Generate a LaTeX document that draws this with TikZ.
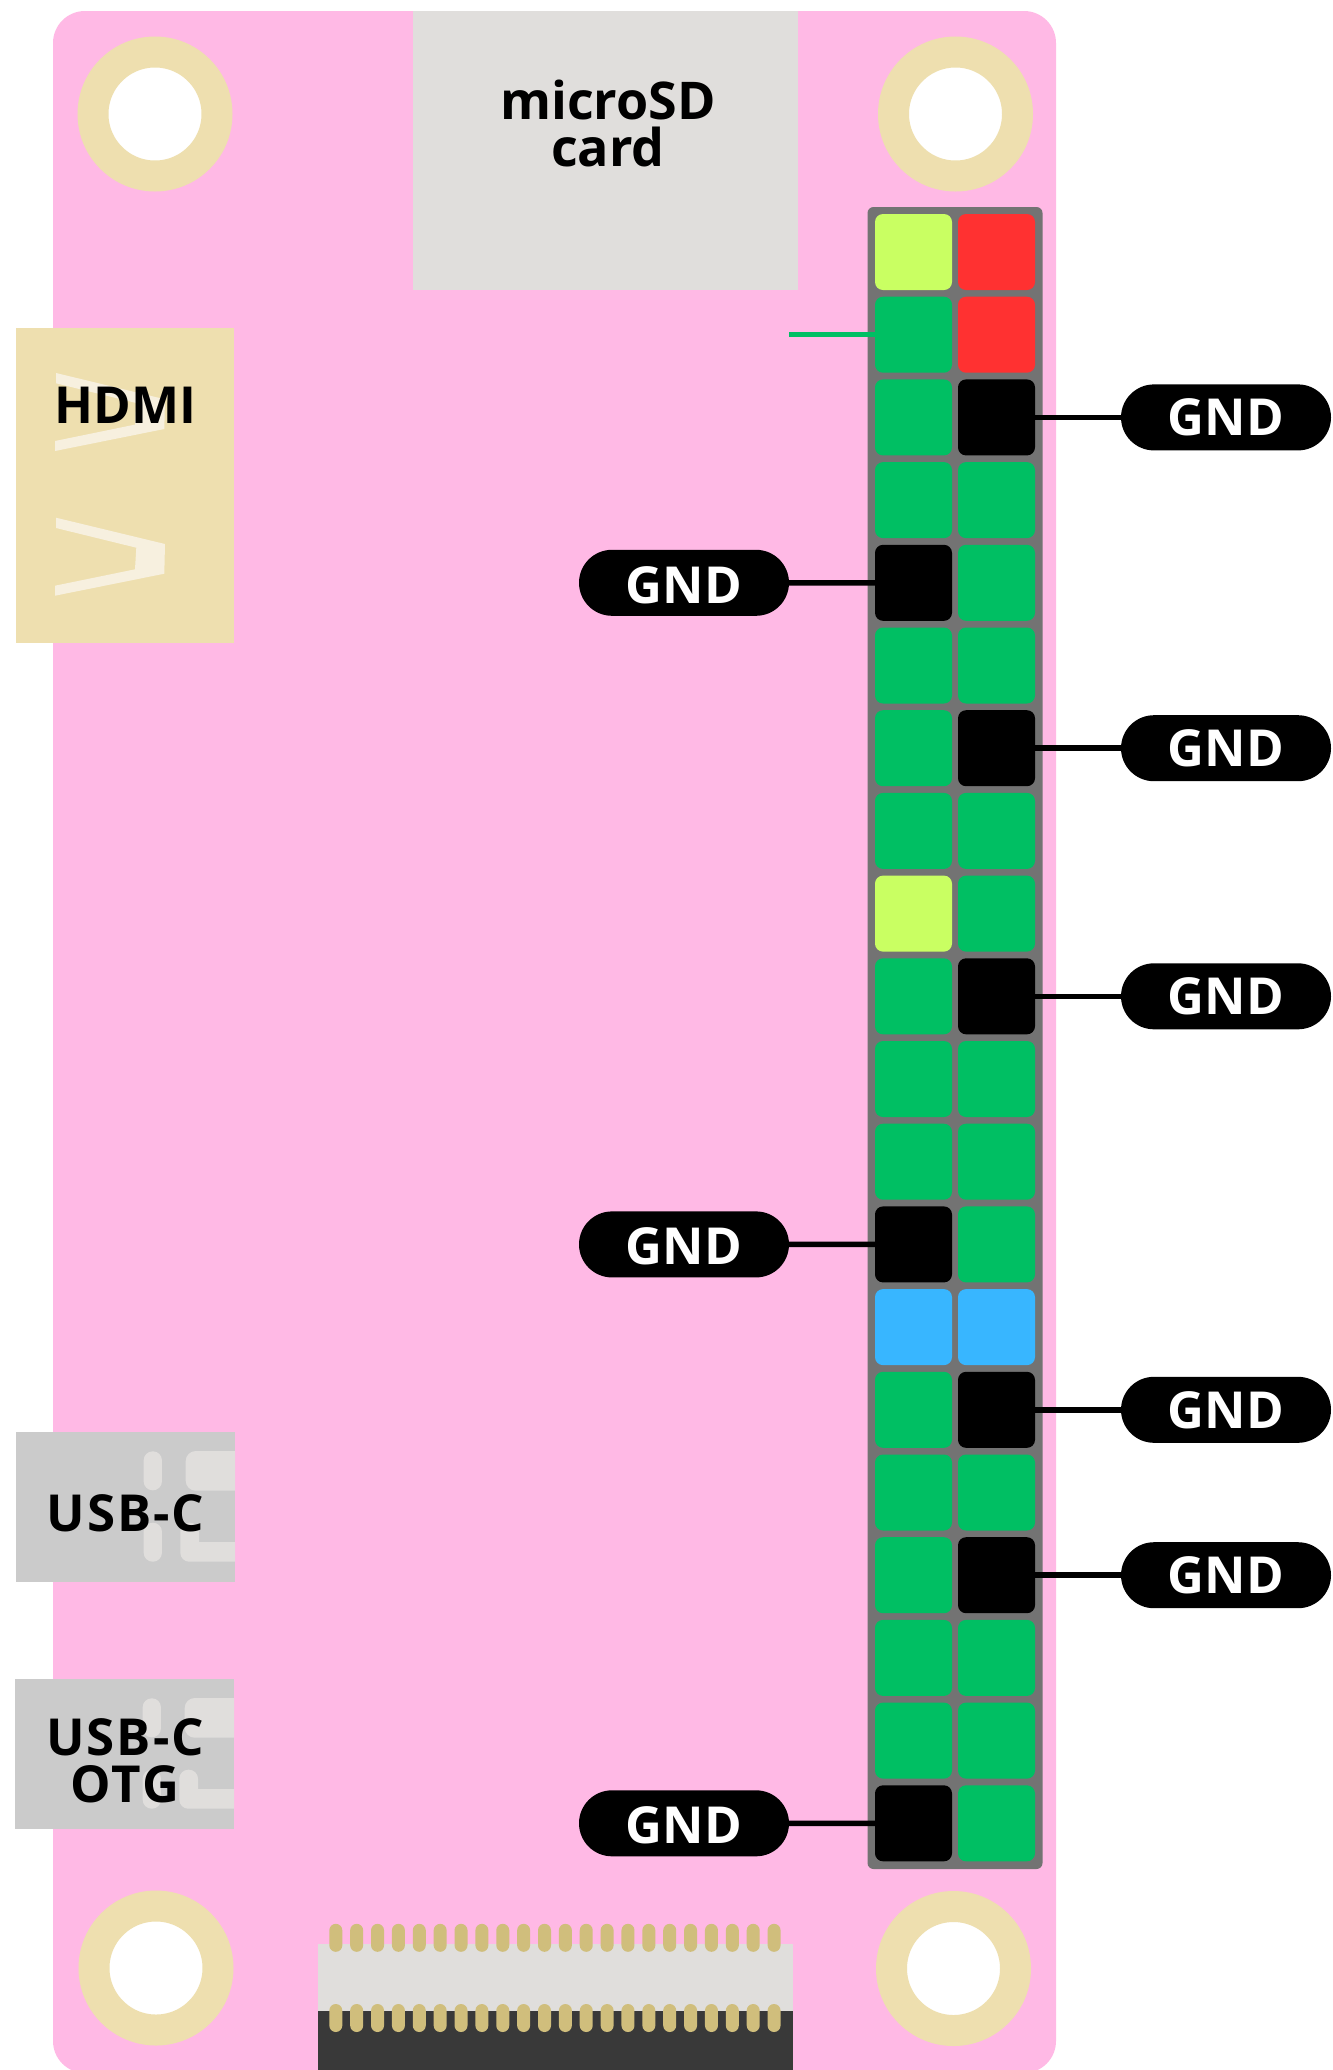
\documentclass[tikz,border=0pt]{standalone}
\usepackage{fontspec}
\setmainfont{Open Sans}
\newfontfamily\usbfont[LetterSpace=4]{Open Sans}
\usepackage{xcolor}
\usetikzlibrary{positioning, shapes.misc}
\definecolor{boardpink}{HTML}{FFB9E5}
\definecolor{ringtan}{HTML}{EEDFAF}
\definecolor{glinttan}{HTML}{F7F0DF}
\definecolor{sdgray}{HTML}{E0DEDC}
\definecolor{usbgray}{HTML}{CBCBCB}
\definecolor{cabledark}{HTML}{393939}
\definecolor{pingold}{HTML}{D0BE7C}
\definecolor{headergray}{HTML}{737373}
\definecolor{gpiogreen}{HTML}{00BF63}
\definecolor{powerred}{HTML}{FF3131}
\definecolor{i2clime}{HTML}{C9FF62}
\definecolor{idblue}{HTML}{38B6FF}

\begin{document}
\begin{tikzpicture}[
    x=1pt, y=1pt,
    node distance=6.7pt and 6pt,
    every node/.style={inner sep=0pt, outer sep=0pt},
    boardbox/.style={rectangle, fill=boardpink, rounded corners=32pt, minimum width=1003pt, minimum height=2062pt},
    mountring/.style={circle, fill=white, draw=ringtan, line width=31pt, minimum size=124pt},
    label/.style={font=\fontsize{51}{47}\selectfont\bfseries, align=center, text=black},
    usblabel/.style={font=\fontsize{51}{47}\usbfont\bfseries, align=center, text=black},
    sdbox/.style={rectangle, fill=sdgray, minimum width=385pt, minimum height=279pt},
    hdmibox/.style={rectangle, fill=ringtan, minimum width=218pt, minimum height=315pt},
    usbbox/.style={rectangle, fill=usbgray, minimum width=219pt, minimum height=150pt},
    usbslot/.style={rectangle, fill=sdgray, rounded corners=9pt, minimum width=18.3pt, minimum height=39pt},
    usbmark/.style={fill=sdgray},
    glint/.style={fill=glinttan},
    headerbox/.style={rectangle, fill=headergray, rounded corners=6pt, minimum width=175pt, minimum height=1662pt},
    pinbox/.style={rectangle, rounded corners=8pt, minimum width=77pt, minimum height=76pt},
    gpio/.style={pinbox, fill=gpiogreen},
    power/.style={pinbox, fill=powerred},
    ground/.style={pinbox, fill=black},
    i2c/.style={pinbox, fill=i2clime},
    idpin/.style={pinbox, fill=idblue},
    gndtag/.style={rounded rectangle, fill=black, minimum width=210pt, minimum height=66pt, text=white, font=\fontsize{51}{51}\selectfont\bfseries},
    gndleft/.style={gndtag, text height=41pt},
    wire/.style={line width=5.5pt, black},
    greenwire/.style={line width=5.5pt, gpiogreen},
    cablelight/.style={rectangle, fill=sdgray, minimum width=475pt, minimum height=67pt},
    cabledarkbox/.style={rectangle, fill=cabledark, minimum width=475pt, minimum height=60pt},
    fpcpin/.style={rectangle, fill=pingold, rounded corners=6.5pt, minimum width=13pt, minimum height=28pt}
]
    \useasboundingbox (0,0) rectangle (1333,-2070);
    \fill [white] (0,0) rectangle (1333,-2070);
    \node [boardbox] (board) at (554.5,-1042) {};
    % mounting holes
    \node [mountring] (holeTL) at (155,-114) {};
    \node [mountring] (holeTR) at (955.5,-114) {};
    \node [mountring] (holeBL) at (156,-1968) {};
    \node [mountring] (holeBR) at (953.5,-1968.5) {};
    % connectors on the board edge
    \node [sdbox] (sd) at (605.5,-150.5) {};
    \node [label, font=\fontsize{52}{47}\selectfont\bfseries] (sdlabel) at (608,-123) {microSD\\card};
    \node [hdmibox] (hdmi) at (125,-485.5) {};
    \foreach \dy in {0,144.7} {
        \fill [glint] (56,-517.7+\dy) -- (165,-544+\dy) -- (164.3,-573.7+\dy) -- (55,-595.7+\dy) -- (55,-585.7+\dy) -- (135,-569.3+\dy) -- (136.3,-547.7+\dy) -- (56,-528+\dy) -- cycle;
    }
    \node [label] (hdmilabel) at (125.8,-405.5) {HDMI};
    \node [usbbox] (usb) at (125.5,-1507) {};
    \node [usbbox] (otg) at (124.5,-1754) {};
    \foreach \nm/\sx/\sy in {usb/0/0, otg/-1/-247} {
        \node [usbslot] (\nm slotA) at (152.8+\sx,-1470.8+\sy) {};
        \node [usbslot] (\nm slotB) at (152.8+\sx,-1542.2+\sy) {};
        \fill [usbmark] (235+\sx,-1451+\sy) [rounded corners=10pt] -- (185.7+\sx,-1451+\sy) -- (185.7+\sx,-1490.7+\sy) [sharp corners] -- (235+\sx,-1490.7+\sy) -- cycle;
        \fill [usbmark] (235+\sx,-1542+\sy) -- (199+\sx,-1542+\sy) [rounded corners=9pt] -- (199+\sx,-1522.7+\sy) -- (180.3+\sx,-1522.7+\sy) -- (180.3+\sx,-1561.7+\sy) [sharp corners] -- (235+\sx,-1561.7+\sy) -- cycle;
    }
    \node [usblabel] (usbtext) at (125.5,-1513) {USB-C};
    \node [usblabel] (otgtext) at (125,-1760.5) {USB-C\\OTG};
    % flat cable at the bottom
    \node [cablelight] (fpc) at (555.3,-1977.5) {};
    \node [cabledarkbox] (cable) at (555.3,-2041) {};
    \foreach \i in {0,...,21} {
        \node [fpcpin] (upper\i) at ({335.8+20.87*\i},-1937.8) {};
        \node [fpcpin] (lower\i) at ({335.8+20.87*\i},-2018) {};
    }
    % 40 pin header
    \node [headerbox] (header) at (955,-1038) {};
    \node [i2c, anchor=north west] (pin1) at (875,-214) {};
    \node [power, right=of pin1] (pin2) {};
    \node [gpio, below=of pin1] (pin3) {};
    \node [power, right=of pin3] (pin4) {};
    \node [gpio, below=of pin3] (pin5) {};
    \node [ground, right=of pin5] (pin6) {};
    \node [gpio, below=of pin5] (pin7) {};
    \node [gpio, right=of pin7] (pin8) {};
    \node [ground, below=of pin7] (pin9) {};
    \node [gpio, right=of pin9] (pin10) {};
    \node [gpio, below=of pin9] (pin11) {};
    \node [gpio, right=of pin11] (pin12) {};
    \node [gpio, below=of pin11] (pin13) {};
    \node [ground, right=of pin13] (pin14) {};
    \node [gpio, below=of pin13] (pin15) {};
    \node [gpio, right=of pin15] (pin16) {};
    \node [i2c, below=of pin15] (pin17) {};
    \node [gpio, right=of pin17] (pin18) {};
    \node [gpio, below=of pin17] (pin19) {};
    \node [ground, right=of pin19] (pin20) {};
    \node [gpio, below=of pin19] (pin21) {};
    \node [gpio, right=of pin21] (pin22) {};
    \node [gpio, below=of pin21] (pin23) {};
    \node [gpio, right=of pin23] (pin24) {};
    \node [ground, below=of pin23] (pin25) {};
    \node [gpio, right=of pin25] (pin26) {};
    \node [idpin, below=of pin25] (pin27) {};
    \node [idpin, right=of pin27] (pin28) {};
    \node [gpio, below=of pin27] (pin29) {};
    \node [ground, right=of pin29] (pin30) {};
    \node [gpio, below=of pin29] (pin31) {};
    \node [gpio, right=of pin31] (pin32) {};
    \node [gpio, below=of pin31] (pin33) {};
    \node [ground, right=of pin33] (pin34) {};
    \node [gpio, below=of pin33] (pin35) {};
    \node [gpio, right=of pin35] (pin36) {};
    \node [gpio, below=of pin35] (pin37) {};
    \node [gpio, right=of pin37] (pin38) {};
    \node [ground, below=of pin37] (pin39) {};
    \node [gpio, right=of pin39] (pin40) {};
    % ground tags
    \node [gndtag, right=86pt of pin6] (gndA) {GND};
    \node [gndleft, left=86pt of pin9] (gndB) {GND};
    \node [gndtag, right=86pt of pin14] (gndC) {GND};
    \node [gndtag, right=86pt of pin20] (gndD) {GND};
    \node [gndleft, left=86pt of pin25] (gndE) {GND};
    \node [gndtag, right=86pt of pin30] (gndF) {GND};
    \node [gndtag, right=86pt of pin34] (gndG) {GND};
    \node [gndleft, left=86pt of pin39] (gndH) {GND};
    \coordinate [left=86pt of pin3] (stub);
    \draw [greenwire] (stub) -- (pin3);
    \draw [wire] (pin6) -- (gndA);
    \draw [wire] (pin9) -- (gndB);
    \draw [wire] (pin14) -- (gndC);
    \draw [wire] (pin20) -- (gndD);
    \draw [wire] (pin25) -- (gndE);
    \draw [wire] (pin30) -- (gndF);
    \draw [wire] (pin34) -- (gndG);
    \draw [wire] (pin39) -- (gndH);
\end{tikzpicture}
\end{document}
